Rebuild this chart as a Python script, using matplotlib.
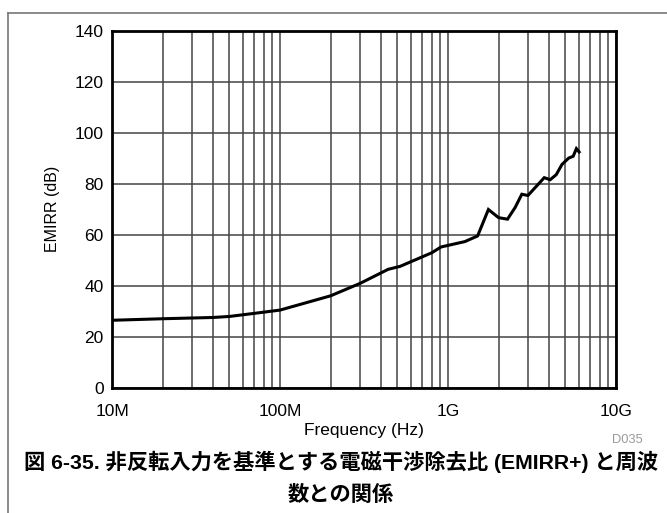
import matplotlib
matplotlib.use("Agg")
import matplotlib.pyplot as plt
from matplotlib.lines import Line2D
from matplotlib.ticker import LogLocator, FixedLocator, NullFormatter

plt.rcParams['font.family'] = ['Liberation Sans', 'Noto Sans CJK JP', 'DejaVu Sans']

# EMIRR+ curve
freq_hz = [10e6, 20e6, 40e6, 50e6, 70e6, 100e6, 200e6, 300e6, 440e6, 520e6,
           800e6, 910e6, 1.0e9, 1.26e9, 1.5e9, 1.74e9, 2.0e9, 2.26e9, 2.51e9,
           2.75e9, 2.99e9, 3.26e9, 3.74e9, 4.06e9, 4.41e9, 4.77e9, 5.23e9,
           5.56e9, 5.81e9, 6.03e9]
emirr_db = [26.4, 27.0, 27.5, 27.9, 29.1, 30.4, 36.0, 40.9, 46.4, 47.6,
            52.9, 55.2, 55.8, 57.3, 59.5, 69.9, 66.7, 66.1, 70.7,
            75.9, 75.4, 78.1, 82.4, 81.6, 83.6, 87.6, 90.1,
            90.8, 93.8, 92.5]

x_ticks = [1e7, 1e8, 1e9, 1e10]
x_labels = ['10M', '100M', '1G', '10G']
y_ticks = [0, 20, 40, 60, 80, 100, 120, 140]

title_line1 = '図 6-35. 非反転入力を基準とする電磁干渉除去比 (EMIRR+) と周波'
title_line2 = '数との関係'

W, H = 667, 513
fig = plt.figure(figsize=(W / 100, H / 100), dpi=100)
ax = fig.add_axes([112 / W, 1 - 387.5 / H, (616 - 112) / W, (387.5 - 31) / H])

ax.plot(freq_hz, emirr_db, color='black', lw=2.2, solid_joinstyle='miter', zorder=3)

ax.set_xscale('log')
ax.set_xlim(1e7, 1e10)
ax.set_ylim(0, 140)
ax.xaxis.set_major_locator(FixedLocator(x_ticks))
ax.set_xticklabels(x_labels)
ax.xaxis.set_minor_locator(LogLocator(base=10, subs=range(2, 10)))
ax.xaxis.set_minor_formatter(NullFormatter())
ax.set_yticks(y_ticks)

ax.grid(True, which='major', axis='both', color='#444444', lw=1.1)
ax.grid(True, which='minor', axis='x', color='#444444', lw=1.1)
ax.set_axisbelow(True)
for s in ax.spines.values():
    s.set_linewidth(2.0)
    s.set_color('black')

ax.tick_params(axis='both', which='both', length=0, labelsize=12.5)
ax.tick_params(axis='x', pad=12)
ax.tick_params(axis='y', pad=6)

ax.set_xlabel('Frequency (Hz)', fontsize=12.5, va='center')
ax.xaxis.set_label_coords(0.5, -0.12)
ax.set_ylabel('EMIRR (dB)', fontsize=11.5, va='center')
ax.yaxis.set_label_coords(-0.119, 0.5)

fig.text(643 / W, 1 - 440 / H, 'D035', ha='right', va='center',
         color='#9a9a9a', fontsize=9.3)

fig.text(341 / W, 1 - 462 / H, title_line1, ha='center', va='center',
         fontsize=15.3, fontweight='bold')
fig.text(341 / W, 1 - 495 / H, title_line2, ha='center', va='center',
         fontsize=15.3, fontweight='bold')

# outer frame lines
fig.add_artist(Line2D([8 / W, 8 / W], [0, 1 - 13 / H], transform=fig.transFigure,
                      color='#777777', lw=1.2))
fig.add_artist(Line2D([8 / W, 1], [1 - 13 / H, 1 - 13 / H], transform=fig.transFigure,
                      color='#777777', lw=1.2))

fig.savefig('out.png', dpi=100)
